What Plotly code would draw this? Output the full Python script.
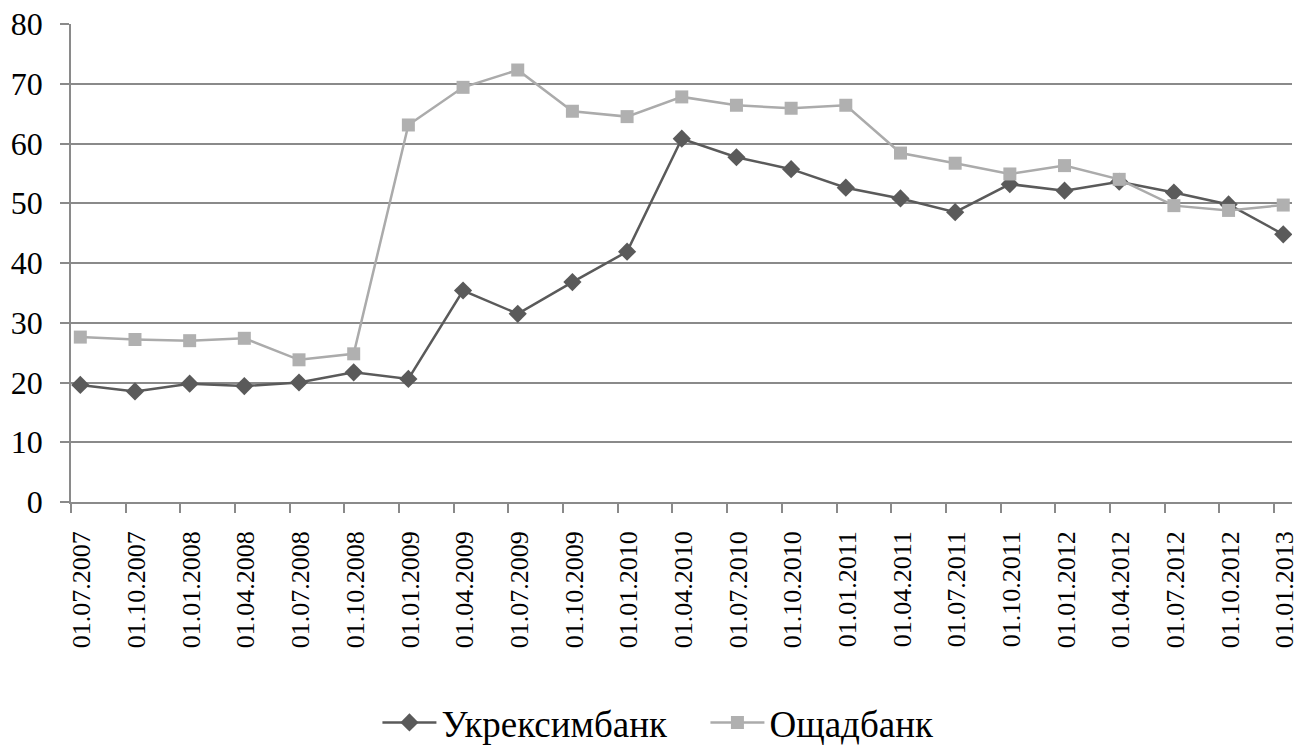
import numpy as np
import plotly.graph_objects as go

categories = ["01.07.2007", "01.10.2007", "01.01.2008", "01.04.2008", "01.07.2008", "01.10.2008",
              "01.01.2009", "01.04.2009", "01.07.2009", "01.10.2009", "01.01.2010", "01.04.2010",
              "01.07.2010", "01.10.2010", "01.01.2011", "01.04.2011", "01.07.2011", "01.10.2011",
              "01.01.2012", "01.04.2012", "01.07.2012", "01.10.2012", "01.01.2013"]

ukreximbank = [19.6, 18.5, 19.8, 19.4, 20.0, 21.7, 20.6, 35.4, 31.5, 36.8, 41.9, 60.8,
               57.7, 55.7, 52.6, 50.8, 48.5, 53.2, 52.1, 53.6, 51.8, 49.8, 44.8]
oschadbank = [27.6, 27.2, 27.0, 27.4, 23.8, 24.8, 63.1, 69.4, 72.3, 65.4, 64.5, 67.8,
              66.4, 65.9, 66.4, 58.4, 56.7, 54.9, 56.3, 54.0, 49.6, 48.8, 49.7]

y_ticks = list(range(0, 81, 10))

n = len(categories)
idx = np.arange(n)
offset = 0.17  # points sit slightly right of the tick marks (Excel date-style axis)
xpos = idx + offset

FONT = "Times New Roman"
GRID = "#8a8a8a"

fig = go.Figure()
fig.add_trace(go.Scatter(
    x=xpos, y=ukreximbank, name="Укрексимбанк", mode="lines+markers",
    line=dict(color="#5a5a5a", width=2.5),
    marker=dict(symbol="diamond", size=14, color="#5a5a5a"),
))
fig.add_trace(go.Scatter(
    x=xpos, y=oschadbank, name="Ощадбанк", mode="lines+markers",
    line=dict(color="#ababab", width=2.5),
    marker=dict(symbol="square", size=13, color="#b0b0b0"),
))

fig.update_layout(
    width=1313, height=752,
    margin=dict(l=71, r=21, t=24, b=250, autoexpand=False),
    plot_bgcolor="white", paper_bgcolor="white",
    font=dict(family=FONT, color="black"),
    showlegend=True,
    legend=dict(orientation="h", x=0.5196, xanchor="center", y=-0.462, yanchor="middle",
                font=dict(size=37, family=FONT), itemwidth=54,
                entrywidth=259,
                traceorder="normal", tracegroupgap=0),
    xaxis=dict(
        range=[0, n - 1 + 0.33],
        tickmode="array", tickvals=idx, ticktext=categories,
        tickangle=-90, tickfont=dict(size=26, family=FONT),
        ticks="outside", ticklen=9, tickcolor=GRID, tickwidth=1.5,
        ticklabelshift=11, ticklabelstandoff=8,
        showgrid=False, showline=True, linecolor=GRID, linewidth=1.5,
        zeroline=False, automargin=False,
    ),
    yaxis=dict(
        range=[0, 80], tickmode="array", tickvals=y_ticks,
        tickfont=dict(size=32, family=FONT),
        ticks="outside", ticklen=9, tickcolor=GRID, tickwidth=1.5,
        ticklabelstandoff=11,
        showgrid=True, gridcolor=GRID, gridwidth=1.5,
        showline=True, linecolor=GRID, linewidth=1.5,
        zeroline=False, automargin=False,
    ),
)

fig.write_html("out.html",
               config={"displayModeBar": False},
               post_script="document.body.style.margin='0';document.body.style.overflow='hidden';")
